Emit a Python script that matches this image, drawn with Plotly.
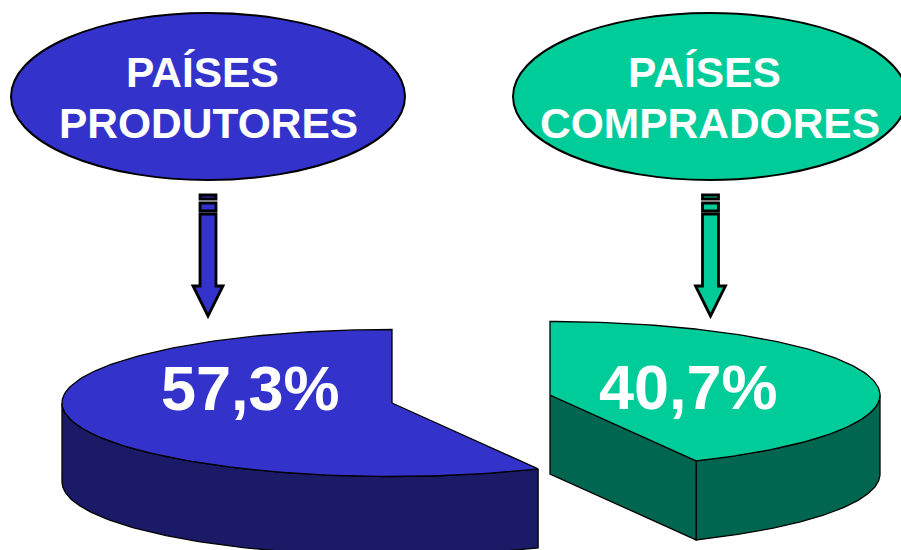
import numpy as np
import plotly.graph_objects as go

# Data
group_labels = [["PAÍSES", "PRODUTORES"], ["PAÍSES", "COMPRADORES"]]
value_labels = ["57,3%", "40,7%"]
producer_share = 57.3                      # share of the circle, producers
drawn_shares = [producer_share, 100 - producer_share]  # the drawing splits one circle in two

# Styles
BLUE, DARK_BLUE = "#3333CC", "#1A1A66"
GREEN, DARK_GREEN = "#00CC99", "#006650"
INK = "#000000"
FONT = "Liberation Sans, Arial, sans-serif"

fig = go.Figure()
RX, RY, DEPTH = 330, 73.5, 79


def arc(cx, cy, t0, t1, n=160):
    t = np.radians(np.linspace(t0, t1, n))
    return cx + RX * np.sin(t), cy - RY * np.cos(t)


def poly(x, y, fill, width=1.3):
    fig.add_trace(go.Scatter(x=list(x) + [x[0]], y=list(y) + [y[0]], mode="lines", fill="toself",
                             fillcolor=fill, line=dict(color=INK, width=width),
                             hoverinfo="skip", showlegend=False))


# Left slice: runs counter-clockwise from the top of the circle
sweep = drawn_shares[0] * 3.6
cx, cy = 392, 403
xs, ys = arc(cx, cy, 360 - sweep, 270)
poly(np.r_[xs, xs[::-1]], np.r_[ys, ys[::-1] + DEPTH], DARK_BLUE)
xs, ys = arc(cx, cy, 360 - sweep, 360)
poly(np.r_[cx, xs], np.r_[cy, ys], BLUE)

# Right slice: runs clockwise from the top of the circle
sweep = drawn_shares[1] * 3.6
cx, cy = 550, 395
xs, ys = arc(cx, cy, 90, sweep)
poly(np.r_[xs, xs[::-1]], np.r_[ys, ys[::-1] + DEPTH], DARK_GREEN)
tx, ty = arc(cx, cy, sweep, sweep, 1)
poly([cx, tx[0], tx[0], cx], [cy, ty[0], ty[0] + DEPTH, cy + DEPTH], DARK_GREEN)
xs, ys = arc(cx, cy, 0, sweep)
poly(np.r_[cx, xs], np.r_[cy, ys], GREEN)

shapes = []
for (x0, x1, color) in [(11, 405, BLUE), (513, 907, GREEN)]:
    shapes.append(dict(type="circle", x0=x0, x1=x1, y0=13, y1=180, fillcolor=color,
                       line=dict(color=INK, width=2), layer="below"))


def rect(x0, x1, y0, y1, color):
    return dict(type="rect", x0=x0, x1=x1, y0=y0, y1=y1, fillcolor=color,
                line=dict(color=INK, width=2.8))


for mid, color in [(208, BLUE), (710.5, GREEN)]:
    shapes.append(rect(mid - 8, mid + 8, 195, 199, color))
    shapes.append(rect(mid - 8, mid + 8, 203, 211, color))
    path = (f"M{mid-8},214 L{mid+8},214 L{mid+8},286 L{mid+15},286 L{mid},316 "
            f"L{mid-15},286 L{mid-8},286 Z")
    shapes.append(dict(type="path", path=path, fillcolor=color, line=dict(color=INK, width=2.8)))

annotations = []


def label(text, x, y, size):
    annotations.append(dict(text=f"<b>{text}</b>", x=x, y=y, xref="x", yref="y", xanchor="center",
                            yanchor="middle", showarrow=False, align="center",
                            font=dict(family=FONT, size=size, color="#FFFFFF")))


for (top, bottom), x_top, x_bottom in zip(group_labels, (202, 704), (208, 710)):
    label(top, x_top, 72, 42.5)
    label(bottom, x_bottom, 123, 42.5)
label(value_labels[0], 250, 388, 63)
label(value_labels[1], 688, 387, 63)

fig.update_layout(width=901, height=550, margin=dict(l=0, r=0, t=0, b=0),
                  paper_bgcolor="#FFFFFF", plot_bgcolor="#FFFFFF", showlegend=False,
                  xaxis=dict(range=[0, 901], visible=False, fixedrange=True),
                  yaxis=dict(range=[550, 0], visible=False, fixedrange=True),
                  shapes=shapes, annotations=annotations)
fig.write_html("out.html", config={"displayModeBar": False},
               post_script="document.body.style.margin='0';document.documentElement.style.overflow='hidden';")
